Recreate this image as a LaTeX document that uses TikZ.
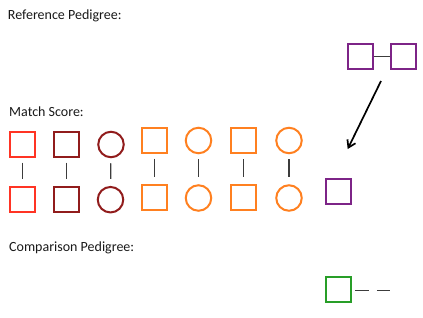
\documentclass[tikz,border=0pt]{standalone}
\usepackage{fontspec}
\setmainfont{Carlito}
\usetikzlibrary{arrows.meta}
\definecolor{cred}{RGB}{255,52,36}
\definecolor{cdred}{RGB}{145,28,28}
\definecolor{corange}{RGB}{255,128,32}
\definecolor{cpurple}{RGB}{125,36,135}
\definecolor{cgreen}{RGB}{40,158,40}
\definecolor{clink}{RGB}{60,60,60}
\begin{document}
\begin{tikzpicture}[x=1pt,y=-1pt,
  sq/.style={draw=#1,line width=2pt,minimum size=25pt,inner sep=0pt,shape=rectangle},
  circ/.style={draw=#1,line width=2pt,minimum size=25.5pt,inner sep=0pt,shape=circle},
  label/.style={anchor=base west,inner sep=0pt,font=\fontsize{14}{16}\selectfont,text=black!90},
  vlink/.style={draw=clink,line width=1.3pt,shorten <=5pt,shorten >=7pt},
  hlink/.style={draw=clink,line width=1.3pt}]
\useasboundingbox (0,0) rectangle (423,317);
% labels
\node[label] (t1) at (7.7,19.5) {Reference Pedigree:};
\node[label] (t2) at (9,116) {Match Score:};
\node[label] (t3) at (9,251) {Comparison Pedigree:};
% match score rows
\node[sq=cred] (a1) at (22.5,144) {};
\node[sq=cred] (b1) at (22.5,199) {};
\node[sq=cdred] (a2) at (66.5,144) {};
\node[sq=cdred] (b2) at (66.5,199) {};
\node[circ=cdred] (a3) at (111,144.5) {};
\node[circ=cdred] (b3) at (110.5,199.7) {};
\node[sq=corange] (a4) at (154.3,140.2) {};
\node[sq=corange] (b4) at (154.3,197) {};
\node[circ=corange] (a5) at (198.5,140.5) {};
\node[circ=corange] (b5) at (198.5,198) {};
\node[sq=corange] (a6) at (243.7,140.5) {};
\node[sq=corange] (b6) at (243.7,197.5) {};
\node[circ=corange] (a7) at (289,140.5) {};
\node[circ=corange] (b7) at (289,198) {};
\foreach \i in {1,...,7} { \draw[vlink] (a\i) -- (b\i); }
% purple
\node[sq=cpurple] (p1) at (360.7,56.5) {};
\node[sq=cpurple] (p2) at (403.3,56.5) {};
\draw[hlink] (p1) -- (p2);
\node[sq=cpurple] (p3) at (338.7,191.7) {};
\coordinate (arS) at (381,81);
\coordinate (arE) at (347.7,149);
\draw[line width=1.7pt,-{Straight Barb[length=7pt,width=9pt]}] (arS) -- (arE);
% comparison
\node[sq=cgreen] (g1) at (338.7,289.3) {};
\coordinate (gE) at (390.7,290.3);
\draw[hlink,dash pattern=on 13.4pt off 8.3pt,shorten <=3pt] (g1.east|-gE) -- (gE);
\end{tikzpicture}
\end{document}
